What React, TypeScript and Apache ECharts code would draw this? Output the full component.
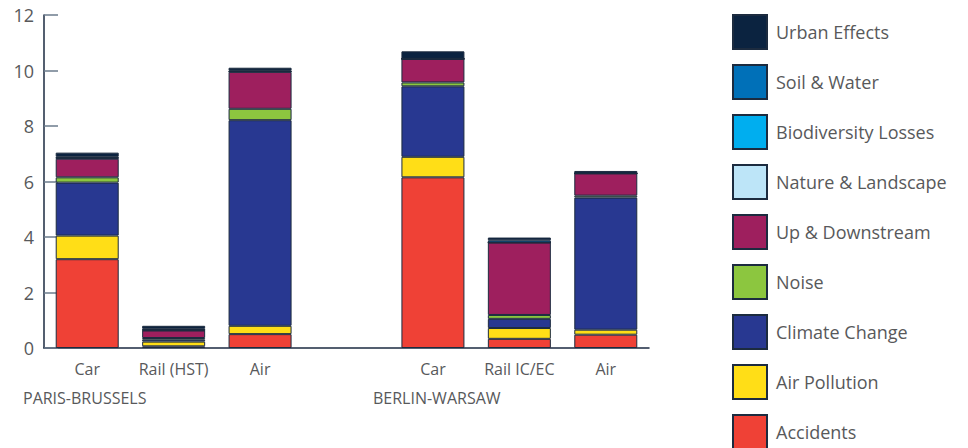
import React, { useEffect, useRef } from "react";
import * as echarts from "echarts";

const categories = ["Car", "Rail (HST)", "Air", "", "Car", "Rail IC/EC", "Air"];
const groupLabels = ["PARIS-BRUSSELS", "BERLIN-WARSAW"];
const yTicks = { min: 0, max: 12, interval: 2 };

// bottom-to-top stack order
const accidents = [3.2, 0.06, 0.5, null, 6.15, 0.33, 0.48];
const airPollution = [0.85, 0.17, 0.3, null, 0.74, 0.39, 0.18];
const climateChange = [1.91, 0.07, 7.41, null, 2.54, 0.33, 4.76];
const noise = [0.19, 0.06, 0.41, null, 0.14, 0.14, 0.07];
const upDownstream = [0.67, 0.27, 1.33, null, 0.85, 2.61, 0.8];
const natureLandscape = [0.03, 0.02, 0.02, null, 0.0, 0.0, 0.0];
const biodiversityLosses = [0.0, 0.0, 0.0, null, 0.0, 0.0, 0.0];
const soilWater = [0.04, 0.04, 0.03, null, 0.0, 0.08, 0.0];
const urbanEffects = [0.15, 0.11, 0.1, null, 0.27, 0.1, 0.09];

const seriesDefs = [
  { name: "Accidents", data: accidents, color: "#ef4136" },
  { name: "Air Pollution", data: airPollution, color: "#ffde17" },
  { name: "Climate Change", data: climateChange, color: "#283891" },
  { name: "Noise", data: noise, color: "#8cc63f" },
  { name: "Up & Downstream", data: upDownstream, color: "#9e1f5e" },
  { name: "Nature & Landscape", data: natureLandscape, color: "#bde5f8" },
  { name: "Biodiversity Losses", data: biodiversityLosses, color: "#00aeef" },
  { name: "Soil & Water", data: soilWater, color: "#0070b8" },
  { name: "Urban Effects", data: urbanEffects, color: "#0b2340" },
];

const FONT = "'Open Sans', 'Noto Sans', sans-serif";
const TEXT = "#58595b";

export default function App() {
  const ref = useRef<HTMLDivElement>(null);
  useEffect(() => {
    if (!ref.current) return;
    const chart = echarts.init(ref.current, null, { renderer: "svg" });
    const legendNames = seriesDefs.map((s) => s.name).reverse();
    chart.setOption({
      animation: false,
      textStyle: { fontFamily: FONT },
      grid: { left: 44, right: 319, top: 15, bottom: 100, containLabel: false },
      legend: legendNames.map((name, i) => ({
        orient: "vertical",
        left: 732,
        top: 14 + i * 50,
        padding: 0,
        itemWidth: 34,
        itemHeight: 34,
        icon: "rect",
        data: [name],
        textStyle: { fontSize: 18, color: TEXT, fontFamily: FONT, padding: [6, 0, 0, 4] },
        selectedMode: false,
      })),
      xAxis: {
        type: "category",
        data: categories,
        boundaryGap: true,
        axisLine: { lineStyle: { color: "#1b2a41", width: 1.5 } },
        axisTick: { inside: true, length: 8, lineStyle: { color: "#6b7b8c", width: 1.5 } },
        axisLabel: { fontSize: 16, color: TEXT, margin: 13, fontFamily: FONT, interval: 0 },
      },
      yAxis: {
        type: "value",
        min: yTicks.min,
        max: yTicks.max,
        interval: yTicks.interval,
        splitLine: { show: false },
        axisLine: { show: true, lineStyle: { color: "#1b2a41", width: 1.5 } },
        axisTick: { show: true, inside: true, length: 14, lineStyle: { color: "#6b7b8c", width: 1.5 } },
        axisLabel: { fontSize: 18, color: TEXT, margin: 10, fontFamily: FONT },
      },
      graphic: [
        { type: "text", left: 23, top: 390, style: { text: groupLabels[0], fontSize: 16, fill: TEXT, fontFamily: FONT } },
        { type: "text", left: 373, top: 390, style: { text: groupLabels[1], fontSize: 16, fill: TEXT, fontFamily: FONT } },
      ],
      series: seriesDefs.map((s) => ({
        name: s.name,
        type: "bar",
        stack: "total",
        data: s.data,
        barWidth: 63,
        itemStyle: { color: s.color, borderColor: "#1c2b3f", borderWidth: 1 },
      })),
    });
    return () => chart.dispose();
  }, []);
  return <div ref={ref} style={{ width: 968, height: 448, position: "absolute", left: 0, top: 0 }} />;
}
